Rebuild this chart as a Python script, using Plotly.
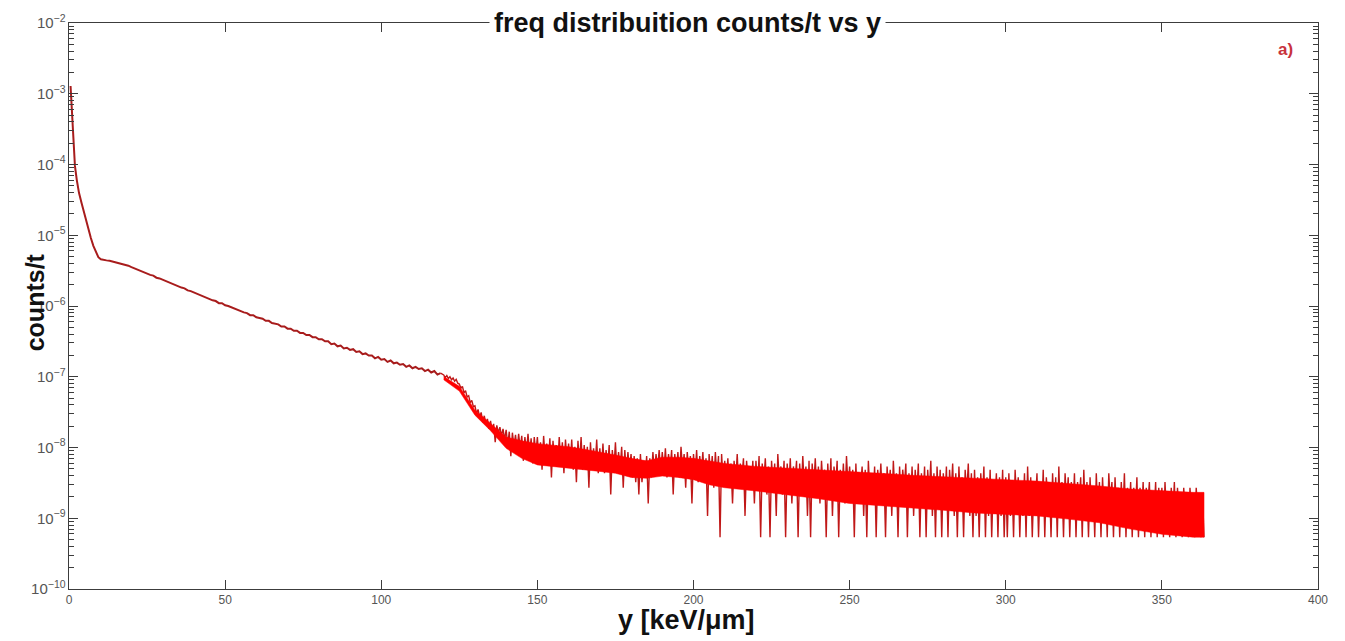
import numpy as np
import plotly.graph_objects as go

# ---- data ----
# steep head: y [keV/um] and log10(counts/t)
head_x = [0.5, 0.7, 1.0, 1.4, 1.9, 2.5, 3.2, 4.0, 5.0, 6.2, 7.0, 7.8, 8.6, 9.4,
          10.2, 11.0, 12.0, 13.0, 14.0, 15.0, 16.0, 17.0, 18.0, 19.0]
head_log = [-2.89, -3.05, -3.35, -3.75, -4.02, -4.22, -4.40, -4.54, -4.72, -4.92,
            -5.04, -5.15, -5.24, -5.31, -5.34, -5.35, -5.355, -5.36, -5.37, -5.38,
            -5.39, -5.40, -5.42, -5.43]

# slowly falling middle part, x = 20 .. 119 (step 1)
mid_x = list(range(20, 120))
mid_log = [-5.45, -5.47, -5.48, -5.50, -5.52, -5.54, -5.56, -5.57, -5.60, -5.61,
           -5.63, -5.65, -5.66, -5.69, -5.70, -5.72, -5.74, -5.75, -5.78, -5.79,
           -5.81, -5.83, -5.84, -5.87, -5.88, -5.90, -5.92, -5.93, -5.96, -5.96,
           -5.99, -6.00, -6.02, -6.04, -6.05, -6.07, -6.09, -6.10, -6.13, -6.13,
           -6.16, -6.17, -6.18, -6.21, -6.21, -6.24, -6.25, -6.26, -6.29, -6.29,
           -6.32, -6.32, -6.35, -6.35, -6.38, -6.38, -6.41, -6.41, -6.44, -6.44,
           -6.47, -6.47, -6.50, -6.50, -6.54, -6.53, -6.57, -6.56, -6.60, -6.59,
           -6.62, -6.61, -6.65, -6.64, -6.68, -6.67, -6.70, -6.70, -6.74, -6.72,
           -6.76, -6.75, -6.79, -6.77, -6.81, -6.80, -6.83, -6.82, -6.86, -6.84,
           -6.88, -6.86, -6.89, -6.88, -6.92, -6.90, -6.94, -6.92, -6.97, -6.95]

# noisy tail: integer counts per bin, bins from 120.0 in steps of 0.5
count_unit = 5.4e-10
tail_start = 120.0
tail_step = 0.5
tail_counts = [
    196, 180, 192, 175, 185, 168, 178, 160, 170, 150, 146, 128, 135, 110, 118, 96, 100, 80, 86, 70,
    72, 56, 64, 50, 58, 42, 52, 40, 47, 34, 44, 32, 40, 22, 38, 30, 36, 27, 34, 24,
    33, 20, 31, 14, 30, 19, 28, 17, 29, 18, 27, 12, 26, 16, 29, 15, 25, 11, 26, 15,
    26, 12, 22, 9, 27, 13, 21, 11, 25, 7, 23, 12, 20, 10, 26, 11, 22, 8, 24, 12,
    21, 10, 24, 9, 19, 6, 23, 11, 26, 9, 20, 10, 19, 5, 22, 9, 18, 10, 24, 8,
    18, 9, 21, 8, 17, 10, 20, 4, 17, 9, 22, 8, 16, 9, 19, 5, 17, 8, 16, 9,
    15, 7, 14, 6, 13, 4, 15, 6, 12, 7, 14, 3, 13, 7, 16, 8, 15, 9, 17, 8,
    16, 8, 18, 7, 15, 9, 17, 4, 15, 8, 16, 7, 19, 9, 15, 5, 16, 8, 14, 3,
    15, 7, 17, 6, 14, 8, 16, 6, 13, 2, 15, 7, 14, 5, 16, 7, 14, 1, 15, 6,
    12, 6, 13, 5, 11, 3, 12, 6, 15, 5, 11, 7, 13, 2, 12, 6, 10, 5, 12, 3,
    12, 5, 14, 1, 11, 6, 13, 4, 10, 1, 12, 5, 11, 2, 15, 6, 10, 4, 12, 1,
    11, 5, 13, 3, 10, 6, 12, 1, 11, 4, 14, 5, 10, 2, 12, 1, 11, 5, 13, 4,
    10, 3, 12, 5, 9, 1, 11, 4, 13, 2, 10, 5, 12, 1, 9, 4, 11, 3, 14, 5,
    10, 4, 9, 1, 11, 3, 8, 5, 10, 2, 9, 1, 12, 4, 8, 3, 10, 1, 9, 4,
    11, 3, 8, 1, 10, 4, 9, 2, 12, 4, 8, 1, 10, 3, 9, 5, 11, 1, 8, 3,
    10, 2, 9, 4, 11, 1, 8, 3, 10, 1, 9, 4, 12, 2, 8, 1, 10, 3, 9, 1,
    8, 3, 10, 1, 9, 4, 11, 2, 8, 1, 10, 3, 7, 1, 9, 4, 11, 2, 8, 1,
    9, 2, 7, 1, 8, 3, 10, 1, 7, 2, 9, 1, 6, 3, 8, 1, 7, 2, 9, 1,
    7, 1, 8, 2, 6, 1, 9, 3, 7, 1, 6, 2, 8, 1, 10, 2, 7, 1, 6, 3,
    8, 1, 6, 2, 9, 1, 7, 3, 6, 1, 8, 2, 7, 1, 10, 2, 6, 1, 8, 3,
    7, 1, 6, 2, 8, 1, 6, 3, 7, 1, 9, 2, 6, 1, 7, 2, 5, 1, 8, 2,
    6, 1, 7, 2, 5, 1, 8, 3, 6, 1, 7, 2, 5, 1, 6, 2, 8, 1, 5, 2,
    6, 1, 5, 2, 7, 1, 5, 2, 6, 1, 5, 3, 6, 1, 4, 2, 6, 1, 5, 2,
    5, 1, 6, 2, 4, 1, 5, 2, 6, 1, 5, 2, 4, 1, 5, 2, 4, 1, 5, 2,
    4, 1, 5, 2, 4, 1, 4, 1,
]

# dense solid core of the noisy band (counts), read every few keV/um
band_x = [120, 125, 130, 135, 140, 145, 150, 155, 160, 165, 170, 175, 180, 185, 190,
          195, 200, 205, 210, 220, 230, 240, 250, 260, 270, 280, 290, 300, 310, 320,
          330, 340, 350, 360, 363.5]
band_hi = [186, 136, 63, 41, 26, 23, 21, 20, 19, 17.5, 16, 14.5, 13, 12, 13.5,
           13.5, 13, 12, 11, 10, 9.5, 9, 8.5, 8, 7.5, 7.2, 6.8, 6.5, 6.2, 5.8,
           5.3, 4.8, 4.5, 4.3, 4.3]
band_lo = [168, 116, 53, 32, 18, 13, 10.5, 10, 9.5, 9, 8.5, 8, 7, 6.8, 7.3,
           7, 6.5, 5.5, 5, 4.5, 4, 3.5, 3, 2.8, 2.6, 2.4, 2.2, 2.1, 2, 1.8,
           1.6, 1.3, 1.1, 1.0, 1.0]

x_ticks = [0, 50, 100, 150, 200, 250, 300, 350, 400]

# ---- build series ----
smooth_x = head_x + mid_x
smooth_y = [10 ** v for v in head_log + mid_log]
tail_x = list(tail_start + tail_step * np.arange(len(tail_counts)))
tail_y = [c * count_unit for c in tail_counts]
band_poly_x = band_x + band_x[::-1]
band_poly_y = [c * count_unit for c in band_hi] + [c * count_unit for c in band_lo[::-1]]

fig = go.Figure()
fig.add_trace(go.Scatter(x=smooth_x, y=smooth_y, mode="lines",
                         line=dict(color="#A81C1C", width=2.0), showlegend=False))
fig.add_trace(go.Scatter(x=[smooth_x[-1]] + tail_x, y=[smooth_y[-1]] + tail_y, mode="lines",
                         line=dict(color="#C01818", width=1.4), showlegend=False))
fig.add_trace(go.Scatter(x=band_poly_x, y=band_poly_y, mode="lines", fill="toself",
                         fillcolor="#FF0000", line=dict(color="#FF0000", width=0.5),
                         showlegend=False, hoverinfo="skip"))

font = "Arial, 'Liberation Sans', sans-serif"
axis_common = dict(showline=True, linecolor="#3c3c3c", linewidth=1, mirror="ticks",
                   ticks="inside", tickcolor="#3c3c3c", showgrid=False, zeroline=False,
                   tickfont=dict(family=font, size=12, color="#555555"))

fig.update_xaxes(range=[0, 400], tickvals=x_ticks, ticklen=9, **axis_common)
fig.update_yaxes(type="log", range=[-10, -2], dtick=1, exponentformat="power",
                 ticklen=9,
                 minor=dict(ticks="inside", ticklen=5, dtick="D1", tickcolor="#3c3c3c",
                            showgrid=False),
                 **axis_common)

fig.update_layout(
    width=1345, height=641,
    margin=dict(l=69, r=27, t=19, b=52),
    paper_bgcolor="white", plot_bgcolor="white",
    annotations=[
        dict(text="<b>freq distribuition counts/t vs y</b>", x=0.495, y=1.0,
             xref="paper", yref="paper", xanchor="center", yanchor="middle",
             showarrow=False, bgcolor="white", borderpad=4,
             font=dict(family=font, size=27, color="#111111")),
        dict(text="<b>a)</b>", x=0.9736, y=0.954, xref="paper", yref="paper",
             xanchor="center", yanchor="middle", showarrow=False,
             font=dict(family=font, size=17, color="#C8323C")),
        dict(text="<b>counts/t</b>", x=-0.027, y=0.507, xref="paper", yref="paper",
             xanchor="center", yanchor="middle", textangle=-90, showarrow=False,
             font=dict(family=font, size=25, color="#111111")),
        dict(text="<b>y [keV/μm]</b>", x=0.494, y=-0.055, xref="paper", yref="paper",
             xanchor="center", yanchor="middle", showarrow=False,
             font=dict(family=font, size=27, color="#111111")),
    ],
)

fig.write_html("out.html", config={"displayModeBar": False},
               post_script="document.body.style.margin='0';document.body.style.padding='0';")
